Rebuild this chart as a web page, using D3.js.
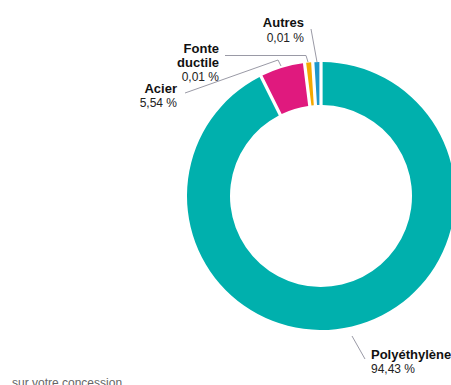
<!DOCTYPE html>
<html><head><meta charset="utf-8">
<script src="https://cdn.jsdelivr.net/npm/d3@7"></script>
<style>
html,body{margin:0;padding:0;background:#fff;overflow:hidden}
svg{display:block;font-family:"Liberation Sans",Arial,sans-serif}
</style></head>
<body>
<svg id="chart" width="451" height="385"></svg>
<script>
const categories = ["Polyéthylène", "Acier", "Fonte ductile", "Autres"];
const values = [94.43, 5.54, 0.01, 0.01];
const valueLabels = ["94,43 %", "5,54 %", "0,01 %", "0,01 %"];
const colors = ["#00b0ad", "#e0197e", "#f5a800", "#1e97cb"];
const minDisplay = 1; // tiny shares are drawn with a minimum visible size

const svg = d3.select("#chart");
const cx = 321, cy = 196, R = 134, r = 91;
const g = svg.append("g").attr("transform", `translate(${cx},${cy})`);

const pie = d3.pie().sort(null).value(d => Math.max(d.v, minDisplay));
const data = categories.map((c, i) => ({c, v: values[i], lab: valueLabels[i], col: colors[i]}));
const arcs = pie(data);
const arc = d3.arc().innerRadius(r).outerRadius(R).padAngle(0.02);

g.selectAll("path.slice").data(arcs).enter().append("path")
  .attr("class", "slice")
  .attr("d", arc)
  .attr("fill", d => d.data.col);

// label layout (positions relative to svg)
const labelLayout = [
  {x: 371, y1: 359, y2: 373, anchor: "start", line: [[352,336],[365,359]]},
  {x: 177, y1: 93, y2: 107, anchor: "end", line: [[185,93],[278,60],[281,66]]},
  {x: 219, y1: 53, y2: 81, anchor: "end", twoLine: true, line: [[225,55.5],[306,55.5],[308,62]]},
  {x: 304, y1: 27, y2: 42, anchor: "end", line: [[311,29],[317,62]]}
];

const lineGen = d3.line();
arcs.forEach((a, i) => {
  const L = labelLayout[i];
  svg.append("path").attr("d", lineGen(L.line))
    .attr("fill", "none").attr("stroke", "#9a9aa6").attr("stroke-width", 1);
  const t = svg.append("text").attr("text-anchor", L.anchor)
    .attr("font-weight", "bold").attr("font-size", 13).attr("fill", "#111");
  if (L.twoLine) {
    const words = a.data.c.split(" ");
    t.append("tspan").attr("x", L.x).attr("y", L.y1).text(words[0]);
    t.append("tspan").attr("x", L.x).attr("y", L.y1 + 14).text(words[1]);
  } else {
    t.append("tspan").attr("x", L.x).attr("y", L.y1).text(a.data.c);
  }
  svg.append("text").attr("text-anchor", L.anchor)
    .attr("x", L.x).attr("y", L.y2)
    .attr("font-size", 12).attr("fill", "#222")
    .text(a.data.lab);
});

svg.append("text").attr("x", 12).attr("y", 387)
  .attr("font-size", 12).attr("fill", "#666")
  .text("sur votre concession");
</script>
</body></html>
